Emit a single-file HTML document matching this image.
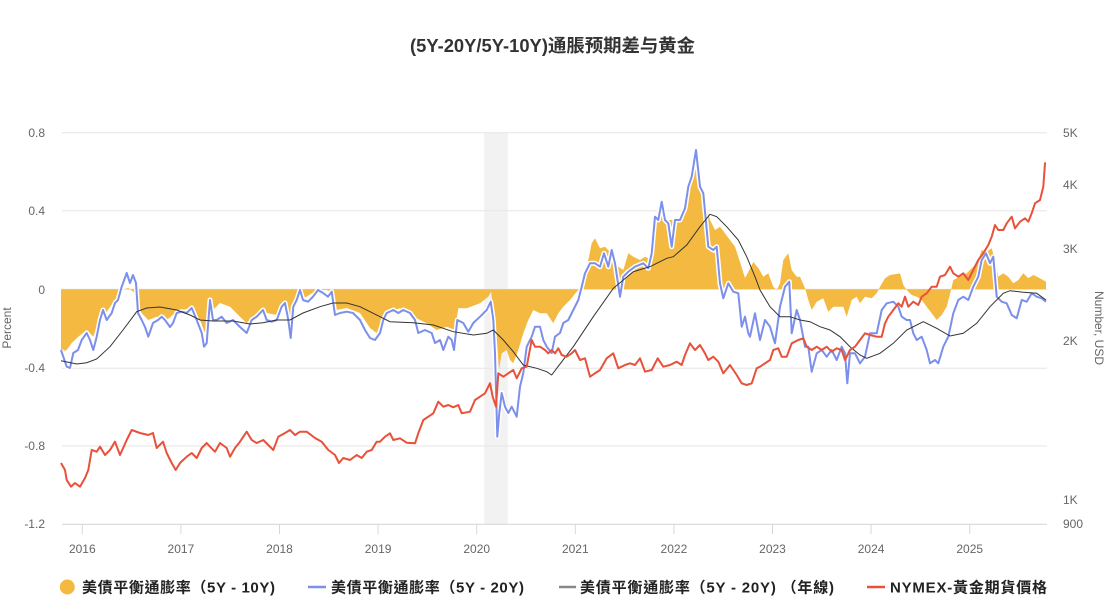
<!DOCTYPE html>
<html><head><meta charset="utf-8"><style>
html,body{margin:0;padding:0;background:#fff;}
svg{display:block;}
text{font-family:"Liberation Sans","Noto Sans CJK TC",sans-serif;}
</style></head><body>
<svg width="1108" height="602" viewBox="0 0 1108 602" xmlns="http://www.w3.org/2000/svg" xmlns:xlink="http://www.w3.org/1999/xlink">
<defs>
<path id="blue" fill="none" stroke-linejoin="round" d="M61,350 L66.7,366.7 70,368 73.3,353 78,350 81.7,340 86.7,333 90,340 93.3,350 96.7,336.7 100,320 103,310 106.7,320 111.7,313 115,303 118,300 121.7,286.7 126.7,273 130,283 133,275 136,283 138,313 141.7,320 145,327 148.3,336.7 153,323 158,320 161.7,316.7 165,320 170,327 173,323 176.7,313 181.7,311.7 186.7,313 191.7,308 196.7,320 201.7,333 204,346.7 206.7,343 210,300 213,320 216.7,320 221.7,316.7 226.7,323 233,320 240,327 246.7,333 251.7,320 256.7,316.7 263,310 266.7,320 271.7,321.7 276.7,320 281.7,306.7 285,303 288.3,320 290.7,338 293.3,306.7 296.7,300 300,290 303,300 308,301.7 313,296.7 318,290 323,293 328,296.7 331.7,291.7 335,315 340,313 346.7,311.7 353,313 360,320 365,330 370,338 375,340 380,333 383.3,320 386.7,313 393.3,310 398.3,313 403.3,310 410,313 415,320 418.3,333 425,330 431.7,333 435,343 440,340 443.3,350 448.3,336.7 451.7,340 454,350 457.3,320 463.3,323 468.3,331.7 473.3,323 480,316.7 486.7,310 490.7,301.7 493.3,320 495,353 497.3,436.7 499.3,413 501.7,393 505,406.7 508.3,413 511.7,406.7 516.7,416.7 520,386.7 523.3,373 526.7,346.7 531.7,336.7 535,326.7 540,326.7 543.3,340 546.7,346.7 551.7,353 555,336.7 560,333 563.3,323 568.3,320 573.3,310 578.3,300 581.7,286.7 585,273.3 590,263.3 595,263.3 600,266.7 604,253.3 608.3,266.7 611.7,250 615,263.3 620,296.7 623.3,276.7 628.3,271.7 635,266.7 643.3,263.3 648.3,268.3 651.7,253.3 655,216.7 658.3,220 661.7,201.7 665,220 668.3,223.3 671.7,246.7 675,220 680,220 685,208.3 688.3,186.7 691.7,176.7 696,150 700,186.7 703.3,193.3 708.3,246.7 713.3,250 716.7,246.7 720,283.3 723.3,298.3 728.3,283.3 733.3,291.7 738.3,293.3 741.7,326.7 745,316.7 748.3,333.3 750,336.7 755,313.3 760,340 765,320 770,326.7 775,343.3 780,306.7 785,286.7 789.3,281.7 791.7,333.3 796.7,310 800,320 805,346.7 808.3,346.7 811.7,371.7 816.7,353.3 821.7,350 826.7,356.7 831.7,350 836.7,360 841.7,346.7 845,353.3 847.3,383.3 850,353.3 855,353.3 860,363.3 865,356.7 870,333.3 876.7,333.3 881.7,310 886.7,303.3 893.3,301.7 898.3,306.7 901.7,316.7 906.7,320 910,320 913.3,333.3 916.7,340 921.7,336.7 926.7,350 930,363.3 935,360 938.3,363.3 943.3,346.7 948.3,336.7 953.3,313.3 958.3,300 963.3,296.7 968.3,300 973.3,286.7 978.3,276.7 981.7,260 986,253.3 990,263.3 993.3,256.7 996.7,296.7 1001.7,301.7 1006.7,303.3 1011.7,315 1016.7,318.3 1021.7,300 1026.7,301.7 1031.7,293.3 1036.7,296.7 1041.7,298.3 1046,301.7"/>
</defs>
<rect x="0" y="0" width="1108" height="602" fill="#fff"/>
<text x="410" y="52" font-size="18" font-weight="bold" fill="#333" textLength="285" lengthAdjust="spacingAndGlyphs" style="font-family:'Liberation Sans','Noto Sans CJK SC',sans-serif">(5Y-20Y/5Y-10Y)通脹预期差与黄金</text>
<!-- recession band -->
<rect x="484.3" y="133" width="23.4" height="391" fill="#f2f2f2"/>
<!-- grid -->
<g stroke="#e6e6e6" stroke-width="1">
<line x1="62" y1="132.7" x2="1047" y2="132.7"/>
<line x1="62" y1="210.7" x2="1047" y2="210.7"/>
<line x1="62" y1="289.3" x2="1047" y2="289.3"/>
<line x1="62" y1="368.3" x2="1047" y2="368.3"/>
<line x1="62" y1="446" x2="1047" y2="446"/>
</g>
<line x1="62" y1="524.3" x2="1047" y2="524.3" stroke="#d8d8d8" stroke-width="1.2"/>
<g stroke="#d8d8d8" stroke-width="1">
<line x1="82.3" y1="524" x2="82.3" y2="534"/>
<line x1="180.9" y1="524" x2="180.9" y2="534"/>
<line x1="279.5" y1="524" x2="279.5" y2="534"/>
<line x1="378.1" y1="524" x2="378.1" y2="534"/>
<line x1="476.7" y1="524" x2="476.7" y2="534"/>
<line x1="575.3" y1="524" x2="575.3" y2="534"/>
<line x1="673.9" y1="524" x2="673.9" y2="534"/>
<line x1="772.5" y1="524" x2="772.5" y2="534"/>
<line x1="871.1" y1="524" x2="871.1" y2="534"/>
<line x1="969.7" y1="524" x2="969.7" y2="534"/>
</g>
<!-- axis labels -->
<g font-size="12" fill="#666" text-anchor="end">
<text x="45" y="137">0.8</text>
<text x="45" y="215">0.4</text>
<text x="45" y="294">0</text>
<text x="45" y="372">-0.4</text>
<text x="45" y="450">-0.8</text>
<text x="45" y="528">-1.2</text>
</g>
<g font-size="12" fill="#666">
<text x="1063" y="137">5K</text>
<text x="1063" y="189">4K</text>
<text x="1063" y="253">3K</text>
<text x="1063" y="345">2K</text>
<text x="1063" y="504">1K</text>
<text x="1063" y="528">900</text>
</g>
<g font-size="12" fill="#666" text-anchor="middle">
<text x="82.3" y="553">2016</text>
<text x="180.9" y="553">2017</text>
<text x="279.5" y="553">2018</text>
<text x="378.1" y="553">2019</text>
<text x="476.7" y="553">2020</text>
<text x="575.3" y="553">2021</text>
<text x="673.9" y="553">2022</text>
<text x="772.5" y="553">2023</text>
<text x="871.1" y="553">2024</text>
<text x="969.7" y="553">2025</text>
</g>
<text transform="translate(11,328) rotate(-90)" font-size="12" fill="#666" text-anchor="middle">Percent</text>
<text transform="translate(1095,328) rotate(90)" font-size="12" fill="#666" text-anchor="middle">Number, USD</text>

<!-- orange area -->
<path fill="#F4B941" d="M61,289.3 L61,351.7 66.7,350 71.7,343 78.3,336.7 86.7,330 93.3,336.7 100,316.7 106.7,311.7 115,300 121.7,290 128.3,288 135,293 138.3,306.7 141.7,313.3 148.3,320 156.7,316.7 166.7,320 176.7,311.7 190,308 200,320 205,333 210,313 220,303 230,306.7 240,316.7 246.7,323 256.7,313 266.7,313 276.7,315 286.7,305 290,323 296.7,298 306.7,296.7 316.7,290 326.7,290 333.3,293 336.7,310 346.7,308 360,313 370,328 376.7,333 380,325 390,311.7 400,308.3 413.3,316.7 426.7,323.3 436.7,330 446.7,326.7 455,330 458.3,308.3 466.7,308.3 480,303.3 488.3,296.7 491,291.7 493.3,306.7 496.7,336.7 499,370 501.7,353.3 506.7,350 510,360 513.3,363.3 518.3,350 523.3,333.3 528.3,320 533.3,310 540,313.3 546.7,313.3 553.3,323.3 558.3,313.3 563.3,306.7 570,300 576.7,291.7 580,288.3 583.3,276.7 588.3,260 591.7,243.3 595,238.3 600,248.3 605,246.7 610,251.7 613.3,256.7 618.3,266.7 623.3,270 628.3,253.3 633.3,256.7 640,260 645,256.7 651.7,260 655,220 661.7,203.3 666.7,220 671.7,220 676.7,220 681.7,213.3 686.7,196.7 691.7,176.7 696,153.3 700,186.7 705,203.3 710,220 715,230 720,226.7 725,233.3 730,240 735,246.7 740,262 745,278 748.3,272 753.3,262 758.3,268 763.3,276.7 768.3,273.3 773.3,286.7 776.7,290 780,283.3 783.3,260 788.3,253.3 791.7,270 796.7,276.7 800,276.7 805,288.3 808.3,300 811.7,310 816.7,301.7 823.3,298.3 828.3,311.7 833.3,306.7 838.3,306.7 843.3,306.7 846.7,316.7 851.7,300 856.7,296.7 860,303.3 865,296.7 871.7,298.3 876.7,293.3 880,286.7 885,278.3 890,275 896.7,274 900,273.3 903.3,285 906.7,290 911.7,295 916.7,296.7 921.7,300 926.7,306.7 931.7,313.3 936.7,320 941.7,315 946.7,306.7 951,290 953.3,280 960,276.7 966.7,273.3 973.3,266.7 978.3,260 981.7,250 986.7,251.7 991.7,248.3 995,260 998.3,276.7 1003.3,273.3 1008.3,276.7 1013.3,283.3 1018.3,280 1023.3,273.3 1028.3,278.3 1033.3,275 1040,278.3 1046,281.7 L1046,289.3 Z"/>

<!-- blue line with white halo -->
<use href="#blue" xlink:href="#blue" stroke="#ffffff" stroke-width="5"/>
<use href="#blue" xlink:href="#blue" stroke="#7B8FEB" stroke-width="2"/>

<!-- black annual line -->
<path fill="none" stroke="#333" stroke-width="1" d="M61,360.7 L76.7,364 86.7,362.7 96.7,359 110,346.7 123,330 136.7,311.7 146.7,308 160,307 176.7,310 190,315 200,320 213,321 233,321 250,324 263,322.7 276.7,320 290,320 303,313 320,306.7 333,303 346.7,303 360,306.7 370,311.7 380,316.7 390,321.7 413.3,322.7 433.3,325 453.3,331.7 473.3,335 486.7,333.3 493.3,330 503.3,340 513.3,351.7 523.3,365 536.7,368.3 546.7,371.7 551.7,375 556.7,368.3 573.3,346.7 593.3,316.7 613.3,288.3 633.3,271.7 650,266.7 666.7,258.3 673.3,256.7 686.7,245 700,226.7 710,214.3 716.7,216.7 726.7,226.7 738.3,240 746.7,256.7 755,276.7 760,290 770,306.7 780,316.7 790,316.7 800,320 810,321.7 820,326.7 830,330 840,336.7 850,346.7 860,355 866.7,358.3 880,353.3 893.3,343.3 906.7,330 923.3,321.7 936.7,328.3 950,336 963.3,333.3 976.7,323.3 990,306.7 1003.3,293.3 1010,290.7 1023.3,292.3 1036.7,293.3 1046,300"/>

<!-- red gold line -->
<path fill="none" stroke="#E8513A" stroke-width="2" stroke-linejoin="round" d="M61,463 L65,470 66.7,480 71,486.7 75,483 80,486.7 85,478 88.3,470 91.7,450 96.7,451.7 100,446.7 105,455 110,450 115,441.7 120,455 126.7,440 131.7,430 140,433 148.3,435 153,433 156.7,448 163,441.7 166.7,453 171.7,463 175.7,470 180,463 186.7,456.7 191.7,453 196.7,458 201.7,448 206.7,443 210,446.7 215,451.7 220,443 226.7,448 230,456.7 235,448 240,441.7 246.7,431.7 251.7,440 256.7,443 263.3,440 268.3,445 273.3,450 278.3,436.7 285,433 290,430 295,435 300,431.7 306.7,431.7 315,438 321.7,441.7 328.3,450 335,455 339,463 343.3,458 350,460 356.7,455 361.7,458 366.7,451.7 371.7,450 376.7,441.7 380,441.7 385,436.7 390,433.3 393.3,440 400,438.3 406.7,442.7 415,443.3 418.3,433.3 423.3,420 428.3,416.7 433.3,413.3 438.3,401.7 443.3,406.7 448.3,405 453.3,407.3 458.3,405 461.7,413.3 470,411.7 475,400 480,396.7 485,393.3 490,383.3 492.7,396.7 496,406.7 498.3,373.3 503.3,376.7 508.3,373.3 513.3,370 516.7,378.3 521.7,368.3 526.7,366.7 531.7,340 535,346.7 540,346.7 545,350 548.3,353.3 551.7,350 555,353.3 558.3,348.3 561.7,355 566.7,356.7 571.7,353.3 575,350 580,360 585,358.3 590,376.7 595,373.3 600,370 606.7,358.3 613.3,353.3 618.3,368.3 625,365 630,363.3 635,365 640,358.3 645,371.7 651.7,370 657.7,358.3 663.3,366.7 670,365 676.7,361.7 681.7,365 685,355 690,343.3 695,350 700,345 705,353.3 708.3,360 713.3,356.7 718.3,361.7 723.3,373.3 730,365 736.7,375 741.7,383.3 746.7,385 751.7,383.3 756.7,368.3 760,366.7 765,363.3 770,360 773.3,350 778.3,348.3 781.7,356.7 786.7,356.7 791.7,343.3 798.3,340 803.3,338.3 806.7,346.7 811.7,350 816.7,346.7 821.7,350 826.7,346.7 831.7,351.7 836.7,348.3 841.7,350 845,360 850,350 855,346.7 860,340 865,333.3 870,335 876.7,336.7 881.7,336.7 885,323.3 888.3,316.7 893.3,310 898.3,303.3 901.7,306.7 905,296.7 908.3,306.7 913.3,301.7 918.3,305 921.7,296.7 926.7,293.3 931.7,286.7 936.7,286.7 940,276.7 945,275 950,266.7 953.3,273.3 958.3,276.7 963.3,273.3 968.3,280 973.3,270 978.3,260 983.3,253.3 988.3,245 991.7,236.7 995,225 998.3,230 1003.3,230 1006.7,223.3 1011.7,216.7 1015,228.3 1020,221.7 1025,218.3 1028.3,221.7 1031.7,213.3 1035,203.3 1040,200 1043.3,186.7 1045,163.3 1046,163.3"/>

<!-- legend -->
<circle cx="67.3" cy="587" r="7.5" fill="#F4B941"/>
<line x1="308" y1="587" x2="326" y2="587" stroke="#7B8FEB" stroke-width="2.5"/>
<line x1="559" y1="587" x2="576" y2="587" stroke="#888" stroke-width="2.5"/>
<line x1="867" y1="587" x2="885" y2="587" stroke="#E8513A" stroke-width="2.5"/>
<g font-size="15" font-weight="bold" fill="#222">
<text x="82" y="592.5" textLength="193" lengthAdjust="spacing">美債平衡通膨率（5Y - 10Y)</text>
<text x="331" y="592.5" textLength="193" lengthAdjust="spacing">美債平衡通膨率（5Y - 20Y)</text>
<text x="580" y="592.5" textLength="254" lengthAdjust="spacing">美債平衡通膨率（5Y - 20Y) （年線)</text>
<text x="890" y="592.5" textLength="157" lengthAdjust="spacing">NYMEX-黃金期貨價格</text>
</g>
</svg>
</body></html>
